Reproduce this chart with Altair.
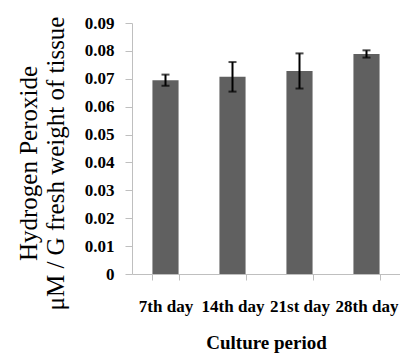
import altair as alt
import pandas as pd

# Hydrogen peroxide content across the culture period (mean ± error)
periods = ["7th day", "14th day", "21st day", "28th day"]
h2o2_mean = [0.0695, 0.0707, 0.0728, 0.0789]
h2o2_err = [0.0020, 0.0053, 0.0063, 0.0013]
y_ticks = [0, 0.01, 0.02, 0.03, 0.04, 0.05, 0.06, 0.07, 0.08, 0.09]

df = pd.DataFrame({"period": periods, "mean": h2o2_mean, "err": h2o2_err})
df["low"] = df["mean"] - df["err"]
df["high"] = df["mean"] + df["err"]

FONT = "Liberation Serif"
AXIS_GRAY = "#bfbfbf"

x_scale = alt.Scale(domain=periods, paddingInner=0.61, paddingOuter=0.305)
y_scale = alt.Scale(domain=[0, 0.09], nice=False, zero=True)

x_axis = alt.Axis(
    title="Culture period",
    labelAngle=0,
    labelFont=FONT,
    labelFontWeight="bold",
    labelFontSize=17,
    labelColor="#000000",
    labelBaseline="alphabetic",
    labelPadding=31,
    labelOverlap=False,
    tickBand="extent",
    tickSize=6,
    tickColor=AXIS_GRAY,
    domainColor=AXIS_GRAY,
    titleFont=FONT,
    titleFontSize=19,
    titleFontWeight="bold",
    titleColor="#000000",
    titleBaseline="alphabetic",
    titleY=74,
)

y_axis = alt.Axis(
    title=["Hydrogen Peroxide", "\u03bcM / G fresh weight of tissue"],
    values=y_ticks,
    labelExpr="datum.value == 0 ? '0' : format(datum.value, '.2f')",
    labelOverlap=False,
    labelFlush=False,
    grid=False,
    labelFont=FONT,
    labelFontWeight="bold",
    labelFontSize=17,
    labelColor="#000000",
    labelPadding=11,
    tickSize=7,
    tickColor=AXIS_GRAY,
    domainColor=AXIS_GRAY,
    titleFont=FONT,
    titleFontSize=25,
    titleFontWeight="normal",
    titleColor="#000000",
    titleLineHeight=27,
    titleAlign="center",
    titleBaseline="alphabetic",
    titleAngle=-90,
    titleX=-96,
    titleY=140,
)

x_enc = alt.X("period:N", sort=periods, scale=x_scale, axis=x_axis)

bars = alt.Chart(df).mark_bar(color="#606060").encode(
    x=x_enc,
    y=alt.Y("mean:Q", scale=y_scale, axis=y_axis),
)

rules = alt.Chart(df).mark_rule(color="#000000", strokeWidth=2).encode(
    x=x_enc,
    y=alt.Y("low:Q", scale=y_scale, axis=y_axis),
    y2="high:Q",
)

caps_low = alt.Chart(df).mark_tick(color="#000000", size=8, thickness=2).encode(
    x=x_enc,
    y=alt.Y("low:Q", scale=y_scale, axis=y_axis),
)
caps_high = alt.Chart(df).mark_tick(color="#000000", size=8, thickness=2).encode(
    x=x_enc,
    y=alt.Y("high:Q", scale=y_scale, axis=y_axis),
)

chart = (
    alt.layer(bars, rules, caps_low, caps_high)
    .properties(
        width=268,
        height=251,
        autosize=alt.AutoSizeParams(type="none"),
        padding={"left": 132, "top": 23, "right": 0, "bottom": 82},
        background="#ffffff",
    )
    .configure_view(stroke=None)
)

chart.save("out.html", embed_options={"renderer": "svg", "actions": False})
